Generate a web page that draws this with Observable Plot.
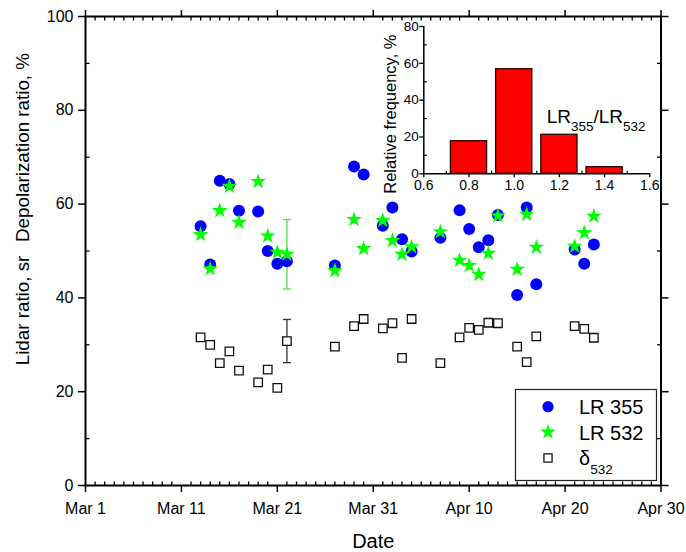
<!DOCTYPE html>
<html><head><meta charset="utf-8">
<script src="https://cdn.jsdelivr.net/npm/d3@7"></script>
<script src="https://cdn.jsdelivr.net/npm/@observablehq/plot@0.6"></script>
<style>
body{margin:0;background:#fff;font-family:"Liberation Sans",Arial,sans-serif;}
#wrap{position:relative;width:686px;height:552px;}
#wrap > svg, #wrap > figure{position:absolute;margin:0;}
</style></head><body><div id="wrap"></div>
<script>
// ---- data ----
const dates = ["2020-03-13","2020-03-14","2020-03-15","2020-03-16","2020-03-17","2020-03-19","2020-03-20","2020-03-21","2020-03-22","2020-03-27","2020-03-29","2020-03-30","2020-04-01","2020-04-02","2020-04-03","2020-04-04","2020-04-07","2020-04-09","2020-04-10","2020-04-11","2020-04-12","2020-04-13","2020-04-15","2020-04-16","2020-04-17","2020-04-21","2020-04-22","2020-04-23"];
const lr355 = [55.3,47.1,65.0,64.3,58.6,58.4,50.0,47.3,47.8,46.9,68.0,66.3,55.4,59.3,52.5,49.9,52.8,58.7,54.7,50.8,52.3,57.7,40.6,59.3,42.9,50.3,47.3,51.4];
const lr532 = [53.5,46.2,58.6,63.8,56.1,64.8,53.2,49.7,49.3,45.8,56.7,50.5,56.5,52.2,49.3,50.9,54.1,48.0,46.9,45.0,49.5,57.5,46.1,57.8,50.8,51.0,53.9,57.4];
const delta532 = [31.6,30.0,26.1,28.6,24.5,22.0,24.7,20.8,30.8,29.6,34.0,35.5,33.5,34.6,27.2,35.5,26.1,31.6,33.6,33.2,34.7,34.6,29.6,26.3,31.8,34.0,33.4,31.5];
const errDate = "2020-03-22";
const lr532Err = [41.9, 56.7];
const delta532Err = [26.2, 35.4];

const xTicks = ["2020-03-01","2020-03-11","2020-03-21","2020-03-31","2020-04-10","2020-04-20","2020-04-30"];
const xTickLabels = ["Mar 1","Mar 11","Mar 21","Mar 31","Apr 10","Apr 20","Apr 30"];
const yTicks = [0,20,40,60,80,100];
const yMinorTicks = [10,30,50,70,90];

const histBinStart = [0.7,0.9,1.1,1.3];
const histBinEnd = [0.9,1.1,1.3,1.5];
const histFreq = [17.7,56.8,21.2,3.6];
const insetXTicks = [0.6,0.8,1.0,1.2,1.4,1.6];
const insetXMinor = [0.7,0.9,1.1,1.3,1.5];
const insetYTicks = [0,20,40,60,80];
const insetYMinor = [10,30,50,70];

// ---- build tables ----
const parse = s => new Date(s + "T00:00:00Z");
const rows = dates.map((d,i) => ({date: parse(d), lr355: lr355[i], lr532: lr532[i], delta: delta532[i]}));
const xTickDates = xTicks.map(parse);
const labelOf = new Map(xTickDates.map((d,i) => [+d, xTickLabels[i]]));
const xStart = xTickDates[0], xEnd = xTickDates[xTickDates.length-1];
const majorSet = new Set(xTickDates.map(d => +d));
const xMinor = d3.utcDay.range(xStart, xEnd).filter(d => !majorSet.has(+d)).map(d => ({d}));
const errRows = [
  {date: parse(errDate), lo: lr532Err[0], hi: lr532Err[1], c: "#4ee04e"},
  {date: parse(errDate), lo: delta532Err[0], hi: delta532Err[1], c: "#333"}
];
const capRows = errRows.flatMap(r => [{date: r.date, v: r.lo, c: r.c}, {date: r.date, v: r.hi, c: r.c}]);
const hist = histFreq.map((f,i) => ({start: histBinStart[i], end: histBinEnd[i], freq: f}));

const seg = (dx, dy) => ({draw(ctx){ ctx.moveTo(0,0); ctx.lineTo(dx,dy); }});
const cap = {draw(ctx){ ctx.moveTo(-4,0); ctx.lineTo(4,0); }};
const FONT = '"Liberation Sans", Arial, sans-serif';

// ---- main plot ----
const main = Plot.plot({
  width: 686, height: 552,
  marginLeft: 85, marginRight: 25.5, marginTop: 16, marginBottom: 67,
  style: {fontFamily: FONT, fontSize: "16px", color: "black", background: "white"},
  x: {type: "utc", domain: [xStart, xEnd]},
  y: {domain: [0, 100]},
  marks: [
    Plot.axisX({ticks: xTickDates, tickSize: 7, tickPadding: 10, tickFormat: d => labelOf.get(+d), label: null, strokeWidth: 1.5}),
    Plot.axisX({anchor: "top", ticks: xTickDates, tickSize: 7, tickFormat: () => "", label: null, strokeWidth: 1.5}),
    Plot.axisY({ticks: yTicks, tickSize: 7, tickPadding: 5, label: null, strokeWidth: 1.5}),
    Plot.axisY({anchor: "right", ticks: yTicks, tickSize: 7, tickFormat: () => "", label: null, strokeWidth: 1.5}),
    Plot.dot(xMinor, {x: "d", y: () => 0, symbol: seg(0,-4), r: 1, fill: "none", stroke: "black", strokeWidth: 1.3}),
    Plot.dot(xMinor, {x: "d", y: () => 100, symbol: seg(0,4), r: 1, fill: "none", stroke: "black", strokeWidth: 1.3}),
    Plot.dot(yMinorTicks, {x: () => xStart, y: d => d, symbol: seg(4,0), r: 1, fill: "none", stroke: "black", strokeWidth: 1.3}),
    Plot.dot(yMinorTicks, {x: () => xEnd, y: d => d, symbol: seg(-4,0), r: 1, fill: "none", stroke: "black", strokeWidth: 1.3}),
    Plot.frame({stroke: "black", strokeWidth: 2}),
    Plot.ruleX(errRows, {x: "date", y1: "lo", y2: "hi", stroke: "c", strokeWidth: 1.3}),
    Plot.dot(capRows, {x: "date", y: "v", symbol: cap, r: 1, fill: "none", stroke: "c", strokeWidth: 1.3}),
    Plot.dot(rows, {x: "date", y: "delta", symbol: "square", r: 4.8, fill: "white", stroke: "#111", strokeWidth: 1.3}),
    Plot.dot(rows, {x: "date", y: "lr355", symbol: "circle", r: 6, fill: "#0000ff", stroke: "none"}),
    Plot.dot(rows, {x: "date", y: "lr532", symbol: "star", r: 5, fill: "#00ff00", stroke: "none"}),
    Plot.text(["Date"], {frameAnchor: "bottom", dy: 56, fontSize: 20, lineAnchor: "middle", fill: "black"}),
    Plot.text(["Depolarization ratio, %"], {frameAnchor: "top-left", dx: -63, dy: 131, rotate: -90, fontSize: 18.8, lineAnchor: "middle", textAnchor: "middle", fill: "black"}),
    Plot.text(["Lidar ratio, sr"], {frameAnchor: "top-left", dx: -63, dy: 294, rotate: -90, fontSize: 18.8, lineAnchor: "middle", textAnchor: "middle", fill: "black"})
  ]
});
main.style.left = "0px"; main.style.top = "0px";
document.getElementById("wrap").appendChild(main);

// ---- inset ----
const IL = 375, IT = 10;
const inset = Plot.plot({
  width: 290, height: 190,
  marginLeft: 48.3, marginRight: 15.7, marginTop: 16, marginBottom: 26.7,
  style: {fontFamily: FONT, fontSize: "14px", color: "black", background: "transparent"},
  x: {domain: [0.6, 1.6]},
  y: {domain: [0, 80]},
  marks: [
    Plot.rectY(hist, {x1: "start", x2: "end", y: "freq", fill: "#ff0000", stroke: "#2a0000", strokeWidth: 1.3, insetLeft: 4.5, insetRight: 4.5}),
    Plot.ruleX([0.6], {stroke: "black", strokeWidth: 1.5}),
    Plot.ruleY([0], {stroke: "black", strokeWidth: 1.5}),
    Plot.axisX({ticks: insetXTicks, tickSize: 4, tickPadding: 2, tickFormat: d3.format(".1f"), label: null, strokeWidth: 1.3}),
    Plot.axisY({ticks: insetYTicks, tickSize: 4, tickPadding: 1, label: null, strokeWidth: 1.3, fontSize: 13.5}),
    Plot.dot(insetXMinor, {x: d => d, y: () => 0, symbol: seg(0,-3), r: 1, fill: "none", stroke: "black", strokeWidth: 1.2}),
    Plot.dot(insetYMinor, {x: () => 0.6, y: d => d, symbol: seg(3,0), r: 1, fill: "none", stroke: "black", strokeWidth: 1.2}),
    Plot.text(["Relative frequency, %"], {frameAnchor: "left", dx: -33.3, dy: 14, rotate: -90, fontSize: 16.5, lineAnchor: "middle", textAnchor: "middle", fill: "black"})
  ]
});
inset.style.left = IL + "px"; inset.style.top = IT + "px";
document.getElementById("wrap").appendChild(inset);

// ratio label with subscripts
const lt = d3.select(inset).append("text")
  .attr("x", 546.7 - IL).attr("y", 123.3 - IT).attr("text-anchor", "start")
  .attr("font-family", FONT).attr("font-size", 19).attr("fill", "black");
lt.append("tspan").text("LR");
lt.append("tspan").attr("font-size", 13.5).attr("dy", 8).text("355");
lt.append("tspan").attr("dy", -8).text("/LR");
lt.append("tspan").attr("font-size", 13.5).attr("dy", 8).text("532");

// ---- legend ----
const leg = d3.select("#wrap").append("svg")
  .attr("width", 686).attr("height", 552)
  .style("left", "0px").style("top", "0px").style("pointer-events", "none");
leg.append("rect").attr("x", 515.5).attr("y", 389.5).attr("width", 141).attr("height", 91)
  .attr("fill", "white").attr("stroke", "#222").attr("stroke-width", 1.2);
const sx = 548, tx = 579;
leg.append("path").attr("d", d3.symbol(d3.symbolCircle, Math.PI*5.6*5.6)()).attr("transform", `translate(${sx},406.7)`).attr("fill", "#0000ff");
leg.append("path").attr("d", d3.symbol(d3.symbolStar, Math.PI*25)()).attr("transform", `translate(${sx},432)`).attr("fill", "#00ff00");
leg.append("path").attr("d", d3.symbol(d3.symbolSquare, Math.PI*4.6*4.6)()).attr("transform", `translate(${sx},458)`).attr("fill", "white").attr("stroke", "#111").attr("stroke-width", 1.3);
const legText = (y) => leg.append("text").attr("x", tx).attr("y", y).attr("font-family", FONT).attr("font-size", 20).attr("fill", "black");
legText(414.3).text("LR 355");
legText(440).text("LR 532");
const dl = legText(465);
dl.append("tspan").text("δ");
dl.append("tspan").attr("font-size", 13.5).attr("dy", 9).text("532");
</script></body></html>
